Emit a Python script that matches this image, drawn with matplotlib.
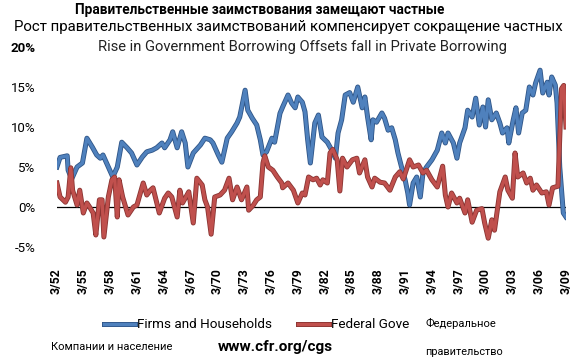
import matplotlib
matplotlib.use("Agg")
import matplotlib.pyplot as plt
import matplotlib.patheffects as pe

plt.rcParams['font.family'] = ['Roboto', 'DejaVu Sans']

# -------------------------------
# Data (% annual growth)
# -------------------------------
firms_years = [
    1952.05, 1952.4, 1953.2, 1953.3, 1953.7, 1954.3, 1954.9, 1955.4, 1956.0, 1956.5,
    1956.9, 1957.2, 1957.8, 1958.3, 1958.8, 1959.3, 1959.9, 1960.4, 1961.0, 1961.6,
    1962.1, 1962.7, 1963.2, 1963.8, 1964.1, 1964.7, 1965.0, 1965.5, 1966.0, 1966.4,
    1966.7, 1967.3, 1968.1, 1968.6, 1969.2, 1969.5, 1970.1, 1970.5, 1971.1, 1971.6,
    1972.2, 1972.5, 1973.1, 1973.4, 1973.9, 1974.4, 1974.8, 1975.1, 1975.5, 1976.1,
    1976.4, 1977.0, 1977.3, 1977.9, 1978.3, 1978.7, 1979.0, 1979.5, 1979.8, 1980.1,
    1980.4, 1980.9, 1981.3, 1981.7, 1982.3, 1982.8, 1983.2, 1983.5, 1983.9, 1984.3,
    1984.8, 1985.2, 1985.7, 1986.2, 1986.5, 1986.8, 1987.2, 1987.4, 1987.8, 1988.4,
    1988.7, 1989.1, 1989.5, 1989.9, 1990.2, 1990.6, 1991.0, 1991.3, 1991.5, 1991.9,
    1992.3, 1992.7, 1993.0, 1993.4, 1994.0, 1994.6, 1995.1, 1995.5, 1995.8, 1996.4,
    1996.8, 1997.1, 1997.7, 1998.0, 1998.5, 1998.9, 1999.3, 1999.7, 2000.0, 2000.3,
    2000.7, 2001.2, 2001.6, 2001.9, 2002.4, 2002.6, 2003.1, 2003.4, 2003.7, 2004.1,
    2004.5, 2004.9, 2005.3, 2005.6, 2006.1, 2006.4, 2006.9, 2007.1, 2007.4, 2007.8,
    2008.0, 2008.3, 2008.7, 2009.0,
]
firms_values = [
    5.0, 6.2, 6.4, 4.6, 3.5, 5.0, 5.5, 8.6, 7.5, 6.5,
    6.1, 6.5, 5.0, 3.75, 5.0, 8.1, 7.4, 6.75, 5.25, 6.25,
    6.9, 7.1, 7.4, 8.0, 7.4, 8.4, 9.4, 7.4, 9.4, 8.0,
    5.0, 6.75, 7.75, 8.6, 8.4, 8.0, 6.5, 5.6, 8.6, 9.4,
    10.5, 11.25, 14.6, 12.1, 11.1, 10.25, 8.4, 6.5, 6.9, 8.6,
    8.1, 11.7, 12.5, 14.0, 13.0, 12.4, 13.75, 13.1, 11.9, 8.4,
    5.5, 10.5, 11.5, 8.75, 8.1, 7.1, 6.1, 9.25, 10.9, 14.0,
    14.3, 13.1, 15.0, 12.4, 13.75, 11.25, 8.4, 10.9, 10.6, 11.75,
    11.1, 9.6, 9.9, 8.4, 6.75, 5.0, 3.4, 1.75, 0.25, 3.0,
    3.75, 1.25, 4.25, 5.0, 5.9, 7.1, 9.25, 8.0, 9.25, 8.0,
    6.1, 8.0, 9.9, 12.1, 11.25, 13.6, 10.25, 12.5, 10.0, 13.4,
    10.9, 11.75, 10.5, 9.25, 9.9, 8.0, 10.9, 12.4, 9.25, 11.75,
    12.1, 15.0, 14.0, 15.5, 17.1, 14.25, 15.6, 14.0, 16.25, 15.25,
    13.0, 5.0, -0.75, -1.25,
]

federal_years = [
    1952.05, 1952.4, 1953.0, 1953.3, 1953.6, 1953.8, 1954.3, 1954.6, 1955.0, 1955.4,
    1955.7, 1956.1, 1956.4, 1956.8, 1957.1, 1957.3, 1957.8, 1958.2, 1958.5, 1958.8,
    1959.0, 1959.4, 1960.0, 1960.6, 1961.0, 1961.7, 1962.1, 1962.5, 1962.8, 1963.5,
    1964.1, 1964.5, 1964.9, 1965.5, 1965.8, 1966.1, 1966.8, 1967.3, 1967.7, 1968.3,
    1968.6, 1968.9, 1969.3, 1969.7, 1970.3, 1970.8, 1971.3, 1971.7, 1972.2, 1972.7,
    1973.3, 1973.5, 1974.0, 1974.4, 1974.8, 1975.1, 1975.3, 1975.7, 1976.2, 1976.7,
    1977.2, 1977.3, 1977.9, 1978.5, 1979.0, 1979.5, 1979.8, 1980.2, 1980.7, 1981.1,
    1981.5, 1981.8, 1982.3, 1982.6, 1982.9, 1983.4, 1983.7, 1984.0, 1984.5, 1985.1,
    1985.6, 1985.9, 1986.5, 1986.8, 1987.3, 1987.6, 1988.2, 1988.7, 1989.3, 1989.9,
    1990.4, 1990.8, 1991.5, 1991.9, 1992.5, 1993.0, 1993.4, 1994.0, 1994.6, 1995.2,
    1995.5, 1995.8, 1996.2, 1996.8, 1997.1, 1997.7, 1998.0, 1998.5, 1999.0, 1999.6,
    1999.9, 2000.3, 2000.7, 2001.0, 2001.6, 2002.2, 2002.5, 2003.0, 2003.3, 2003.6,
    2004.2, 2004.6, 2005.0, 2005.3, 2005.7, 2006.3, 2006.8, 2007.1, 2007.5, 2008.1,
    2008.5, 2008.75, 2009.0,
]
federal_values = [
    3.0, 1.25, 0.6, 1.25, 4.9, 2.1, 0.25, 2.1, -0.75, 0.5,
    0.0, -0.75, -3.5, 0.9, 0.9, -3.75, 1.25, 3.4, 3.75, -1.25,
    3.4, 1.25, -1.0, 0.0, 0.25, 3.0, 1.5, 2.1, 2.4, -0.75,
    1.1, 1.75, 1.25, -1.25, 2.1, 0.5, 1.9, -2.0, 3.6, 2.75,
    0.9, 0.0, -3.4, 1.25, 1.5, 2.1, 3.6, 0.9, 2.5, 0.9,
    2.5, -0.4, 0.2, 0.9, 1.25, 5.5, 6.4, 5.0, 4.6, 3.75,
    3.0, 2.4, 3.0, 2.1, 0.5, 1.75, 1.5, 3.75, 3.4, 3.6,
    2.75, 3.4, 3.0, 6.75, 7.2, 5.9, 2.0, 6.1, 5.0, 5.9,
    6.1, 4.25, 5.9, 3.75, 2.5, 3.6, 3.1, 3.0, 2.1, 3.75,
    4.4, 3.5, 5.9, 5.0, 5.25, 4.25, 4.6, 3.4, 2.5, 5.1,
    1.5, 0.0, 1.75, 0.5, 1.1, -0.75, 0.9, -1.9, -0.4, -0.2,
    -2.0, -3.9, -1.6, -2.9, 1.9, 3.75, 2.1, 1.1, 6.75, 3.75,
    4.25, 3.0, 3.6, 2.1, 2.75, 1.75, 1.9, 0.25, 2.4, 2.6,
    14.8, 15.2, 10.0,
]

tick_years = list(range(1952, 2010, 3))
tick_labels = ["3/%02d" % (y % 100) for y in tick_years]

# -------------------------------
# Chart
# -------------------------------
fig = plt.figure(figsize=(5.8, 3.62), dpi=100)
ax = fig.add_axes([56.5 / 580, 1 - 247 / 362, 509.5 / 580, 200 / 362])

blue = "#4f81bd"
red = "#c0504d"
ln_firms, = ax.plot(firms_years, firms_values, color=blue, lw=2.4,
                    path_effects=[pe.Stroke(linewidth=3.6, foreground="#2f5587"), pe.Normal()])
ln_fed, = ax.plot(federal_years, federal_values, color=red, lw=2.4,
                  path_effects=[pe.Stroke(linewidth=3.6, foreground="#8a3432"), pe.Normal()])
ax.axhline(0, color="black", lw=0.9, zorder=1)

ax.set_xlim(1952, 2009)
ax.set_ylim(-5, 20)
ax.set_yticks([-5, 0, 5, 10, 15, 20])
ax.set_yticklabels(["-5%", "0%", "5%", "10%", "15%", "20%"], fontsize=9.5)
ax.get_yticklabels()[-1].set_fontweight("bold")
ax.set_xticks(tick_years)
ax.set_xticklabels(tick_labels, rotation=90, fontsize=8.8, fontweight="bold", va="top")
ax.tick_params(length=0, pad=15)
ax.tick_params(axis="x", pad=15)
for s in ax.spines.values():
    s.set_visible(False)

fig.text(260 / 580, 1 - 10 / 362, "Правительственные заимствования замещают частные",
         ha="center", va="center", fontsize=9.8, fontweight="bold")
fig.text(288 / 580, 1 - 27 / 362, "Рост правительственных заимствований компенсирует сокращение частных",
         ha="center", va="center", fontsize=10.8)
fig.text(302 / 580, 1 - 47 / 362, "Rise in Government Borrowing Offsets fall in Private Borrowing",
         ha="center", va="center", fontsize=10.6, color="#222222")

fig.legend([ln_firms, ln_fed], ["Firms and Households", "Federal Gove"],
           loc="center left", bbox_to_anchor=(104 / 580, 1 - 325 / 362), ncol=2,
           frameon=False, fontsize=9.7, handlelength=2.3, handletextpad=0.15,
           columnspacing=1.9, borderpad=0, borderaxespad=0)

fig.text(425 / 580, 1 - 323 / 362, "Федеральное", ha="left", va="center", fontsize=8)
fig.text(425 / 580, 1 - 352 / 362, "правительство", ha="left", va="center", fontsize=7.8)
fig.text(112 / 580, 1 - 347 / 362, "Компании и население", ha="center", va="center", fontsize=8)
fig.text(275 / 580, 1 - 347 / 362, "www.cfr.org/cgs", ha="center", va="center",
         fontsize=11, fontweight="bold")

fig.savefig("out.png", dpi=100)
